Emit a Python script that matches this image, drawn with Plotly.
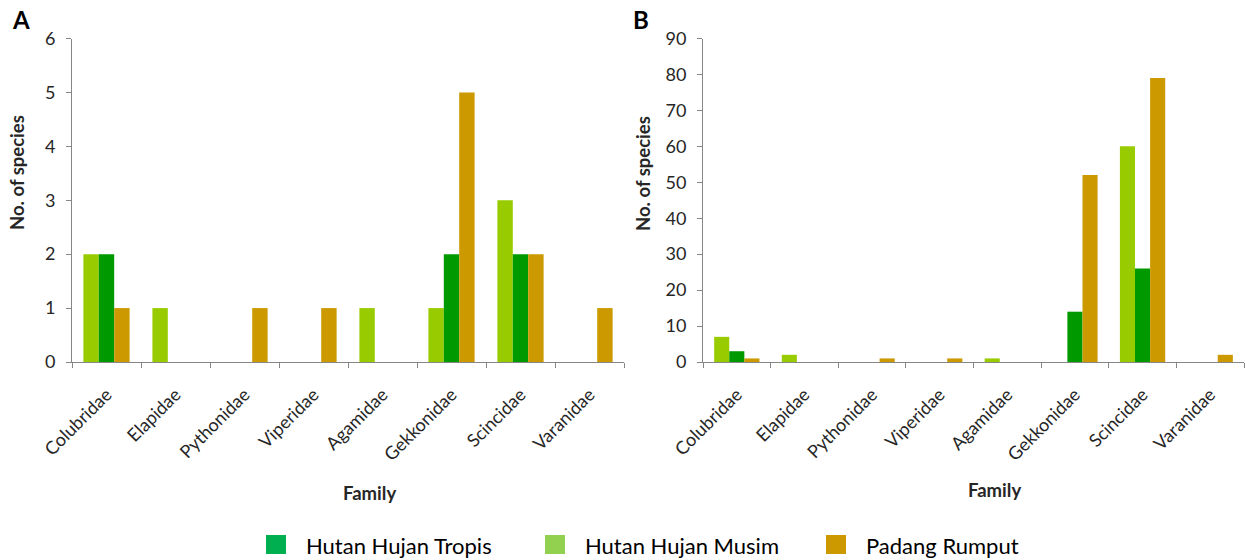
import plotly.graph_objects as go

W, H = 1245, 560

families = ["Colubridae", "Elapidae", "Pythonidae", "Viperidae",
            "Agamidae", "Gekkonidae", "Scincidae", "Varanidae"]

# Panel A (No. of species)
a_musim = [2, 1, 0, 0, 1, 1, 3, 0]
a_tropis = [2, 0, 0, 0, 0, 2, 2, 0]
a_padang = [1, 0, 1, 1, 0, 5, 2, 1]

# Panel B
b_musim = [7, 2, 0, 0, 1, 0, 60, 0]
b_tropis = [3, 0, 0, 0, 0, 14, 26, 0]
b_padang = [1, 0, 1, 1, 0, 52, 79, 2]

series_names = ["Hutan Hujan Musim", "Hutan Hujan Tropis", "Padang Rumput"]
bar_colors = ["#99CC00", "#009900", "#CC9900"]
legend_names = ["Hutan Hujan Tropis", "Hutan Hujan Musim", "Padang Rumput"]
legend_colors = ["#00B050", "#92D050", "#CC9900"]

FONT = "Lato, Carlito, Calibri, 'Open Sans', sans-serif"
TXT = "#262626"

fig = go.Figure()
for vals, name, col in zip([a_musim, a_tropis, a_padang], series_names, bar_colors):
    fig.add_trace(go.Bar(x=families, y=vals, name=name, marker_color=col,
                         marker_line_width=0, xaxis="x", yaxis="y", showlegend=False))
for vals, name, col in zip([b_musim, b_tropis, b_padang], series_names, bar_colors):
    fig.add_trace(go.Bar(x=families, y=vals, name=name, marker_color=col,
                         marker_line_width=0, xaxis="x2", yaxis="y2", showlegend=False))

def px_x(p):
    return p / W

def px_y(p):
    return 1 - p / H

ydom = [px_y(362), px_y(38.5)]
axis_line = dict(showline=True, linecolor="#868686", linewidth=1, ticks="outside",
                 tickcolor="#868686", ticklen=5, showgrid=False, zeroline=False,
                 automargin=False,
                 tickfont=dict(family=FONT, size=18, color=TXT))

fig.update_layout(
    width=W, height=H, margin=dict(l=0, r=0, t=0, b=0, autoexpand=False),
    paper_bgcolor="white", plot_bgcolor="white",
    barmode="group", bargap=0.33, bargroupgap=0,
    font=dict(family=FONT, color=TXT),
    xaxis=dict(domain=[px_x(72), px_x(624)], anchor="y", tickangle=-45,
               tickson="boundaries", ticklabelstandoff=14, **axis_line),
    yaxis=dict(domain=ydom, anchor="x", range=[0, 6], dtick=1,
               ticklabelstandoff=7, **axis_line),
    xaxis2=dict(domain=[px_x(703), px_x(1244)], anchor="y2", tickangle=-45,
                tickson="boundaries", ticklabelstandoff=14, **axis_line),
    yaxis2=dict(domain=ydom, anchor="x2", range=[0, 90], dtick=10,
                ticklabelstandoff=7, **axis_line),
)

annos = []
def anno(text, xp, yp, size, color=TXT, angle=0, xanchor="center"):
    annos.append(dict(text=text, x=px_x(xp), y=px_y(yp), xref="paper", yref="paper",
                      xanchor=xanchor, yanchor="middle", showarrow=False, textangle=angle,
                      font=dict(family=FONT, size=size, color=color)))

anno("<b>A</b>", 21, 20, 24, "black")
anno("<b>B</b>", 641, 20, 24, "black")
anno("<b>No. of species</b>", 17, 173, 18.5, angle=-90)
anno("<b>No. of species</b>", 643, 174, 18.5, angle=-90)
anno("<b>Family</b>", 370, 493, 18.5)
anno("<b>Family</b>", 995, 490, 18.5)

shapes = []
sw_x = [266, 545, 826]
for sx, name, col in zip(sw_x, legend_names, legend_colors):
    shapes.append(dict(type="rect", xref="paper", yref="paper",
                       x0=px_x(sx), x1=px_x(sx + 20), y0=px_y(554), y1=px_y(535),
                       fillcolor=col, line=dict(width=0)))
    anno(name, sx + 38, 545, 22, "black", xanchor="left")

fig.update_layout(annotations=annos, shapes=shapes)
fig.write_html("out.html")
